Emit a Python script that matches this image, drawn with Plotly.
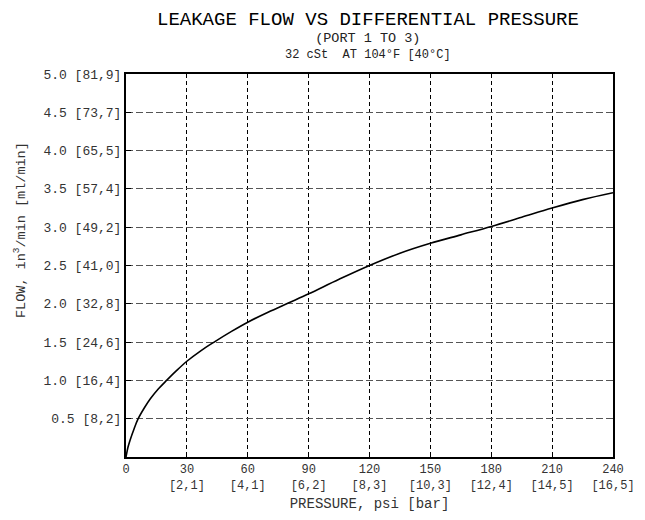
import plotly.graph_objects as go

# Data
pressure_psi = [0, 1, 2, 4, 6, 9, 12, 16, 20, 25, 30, 37, 44, 52, 60, 70, 80, 90, 105, 120, 135, 150, 165, 180, 195, 210, 225, 240]
flow_in3 = [0, 0.13, 0.22, 0.37, 0.50, 0.64, 0.76, 0.89, 1.00, 1.13, 1.25, 1.39, 1.51, 1.64, 1.76, 1.89, 2.01, 2.13, 2.32, 2.50, 2.66, 2.79, 2.90, 3.01, 3.13, 3.25, 3.36, 3.45]

x_tickvals = [0, 30, 60, 90, 120, 150, 180, 210, 240]
x_ticktext = ["0", "30<br>[2,1]", "60<br>[4,1]", "90<br>[6,2]", "120<br>[8,3]",
              "150<br>[10,3]", "180<br>[12,4]", "210<br>[14,5]", "240<br>[16,5]"]
y_tickvals = [0.5, 1.0, 1.5, 2.0, 2.5, 3.0, 3.5, 4.0, 4.5, 5.0]
y_ticktext = ["0.5 [8,2]", "1.0 [16,4]", "1.5 [24,6]", "2.0 [32,8]", "2.5 [41,0]",
              "3.0 [49,2]", "3.5 [57,4]", "4.0 [65,5]", "4.5 [73,7]", "5.0 [81,9]"]

title_text = "LEAKAGE FLOW VS DIFFERENTIAL PRESSURE"
subtitle1 = "(PORT 1 TO 3)"
subtitle2 = "32 cSt  AT 104°F [40°C]"
x_title = "PRESSURE, psi [bar]"
y_title = "FLOW, in<sup>3</sup>/min [ml/min]"

FONT = "Liberation Mono, DejaVu Sans Mono, monospace"

fig = go.Figure()
fig.add_trace(go.Scatter(
    x=pressure_psi, y=flow_in3, mode="lines",
    line=dict(color="black", width=1.6, shape="spline", smoothing=1.0),
    hoverinfo="skip", showlegend=False,
))

# page body has an 8px default margin; figure coordinates = screen - 8
OFF = 8
W, H = 637, 512
L, T = 126 - OFF, 74 - OFF
pw, ph = 487, 383
R, B = W - L - pw, H - T - ph

def px_x(sx):
    return (sx - OFF - L) / pw

def px_y(sy):
    return (T + ph - (sy - OFF)) / ph

fig.update_layout(
    width=W, height=H,
    margin=dict(l=L, r=R, t=T, b=B, autoexpand=False),
    paper_bgcolor="white", plot_bgcolor="white",
    font=dict(family=FONT, color="#222"),
    showlegend=False,
    xaxis=dict(
        range=[0, 240], tickvals=x_tickvals, ticktext=x_ticktext,
        showgrid=True, gridcolor="black", gridwidth=1, griddash="4px,3px",
        ticks="inside", ticklen=5, tickcolor="black",
        showline=True, linecolor="black", linewidth=2, mirror=True,
        tickfont=dict(size=12, color="#333", family=FONT),
        zeroline=False, fixedrange=True, automargin=False,
        title=dict(text=x_title, font=dict(size=14, color="#333", family=FONT), standoff=6),
    ),
    yaxis=dict(
        range=[0, 5], tickvals=y_tickvals, ticktext=y_ticktext,
        showgrid=True, gridcolor="#555", gridwidth=1, griddash="7px,3px",
        ticks="inside", ticklen=5, tickcolor="black",
        showline=True, linecolor="black", linewidth=2, mirror=True,
        tickfont=dict(size=13, color="#333", family=FONT),
        zeroline=False, fixedrange=True, automargin=False,
    ),
    annotations=[
        dict(text=title_text, x=px_x(368), y=px_y(19.8), xref="paper", yref="paper",
             showarrow=False, xanchor="center", yanchor="middle",
             font=dict(size=19, color="black", family=FONT)),
        dict(text="<span style='font-size:13.5px'>" + subtitle1 + "</span><br>" + subtitle2,
             x=px_x(368), y=px_y(47), xref="paper", yref="paper",
             showarrow=False, xanchor="center", yanchor="middle", align="center",
             font=dict(size=12, color="#222", family=FONT)),
        dict(text=y_title, x=px_x(20), y=px_y(230), xref="paper", yref="paper",
             showarrow=False, xanchor="center", yanchor="middle", textangle=-90,
             font=dict(size=13.5, color="#333", family=FONT)),
    ],
)

fig.write_html("out.html")
